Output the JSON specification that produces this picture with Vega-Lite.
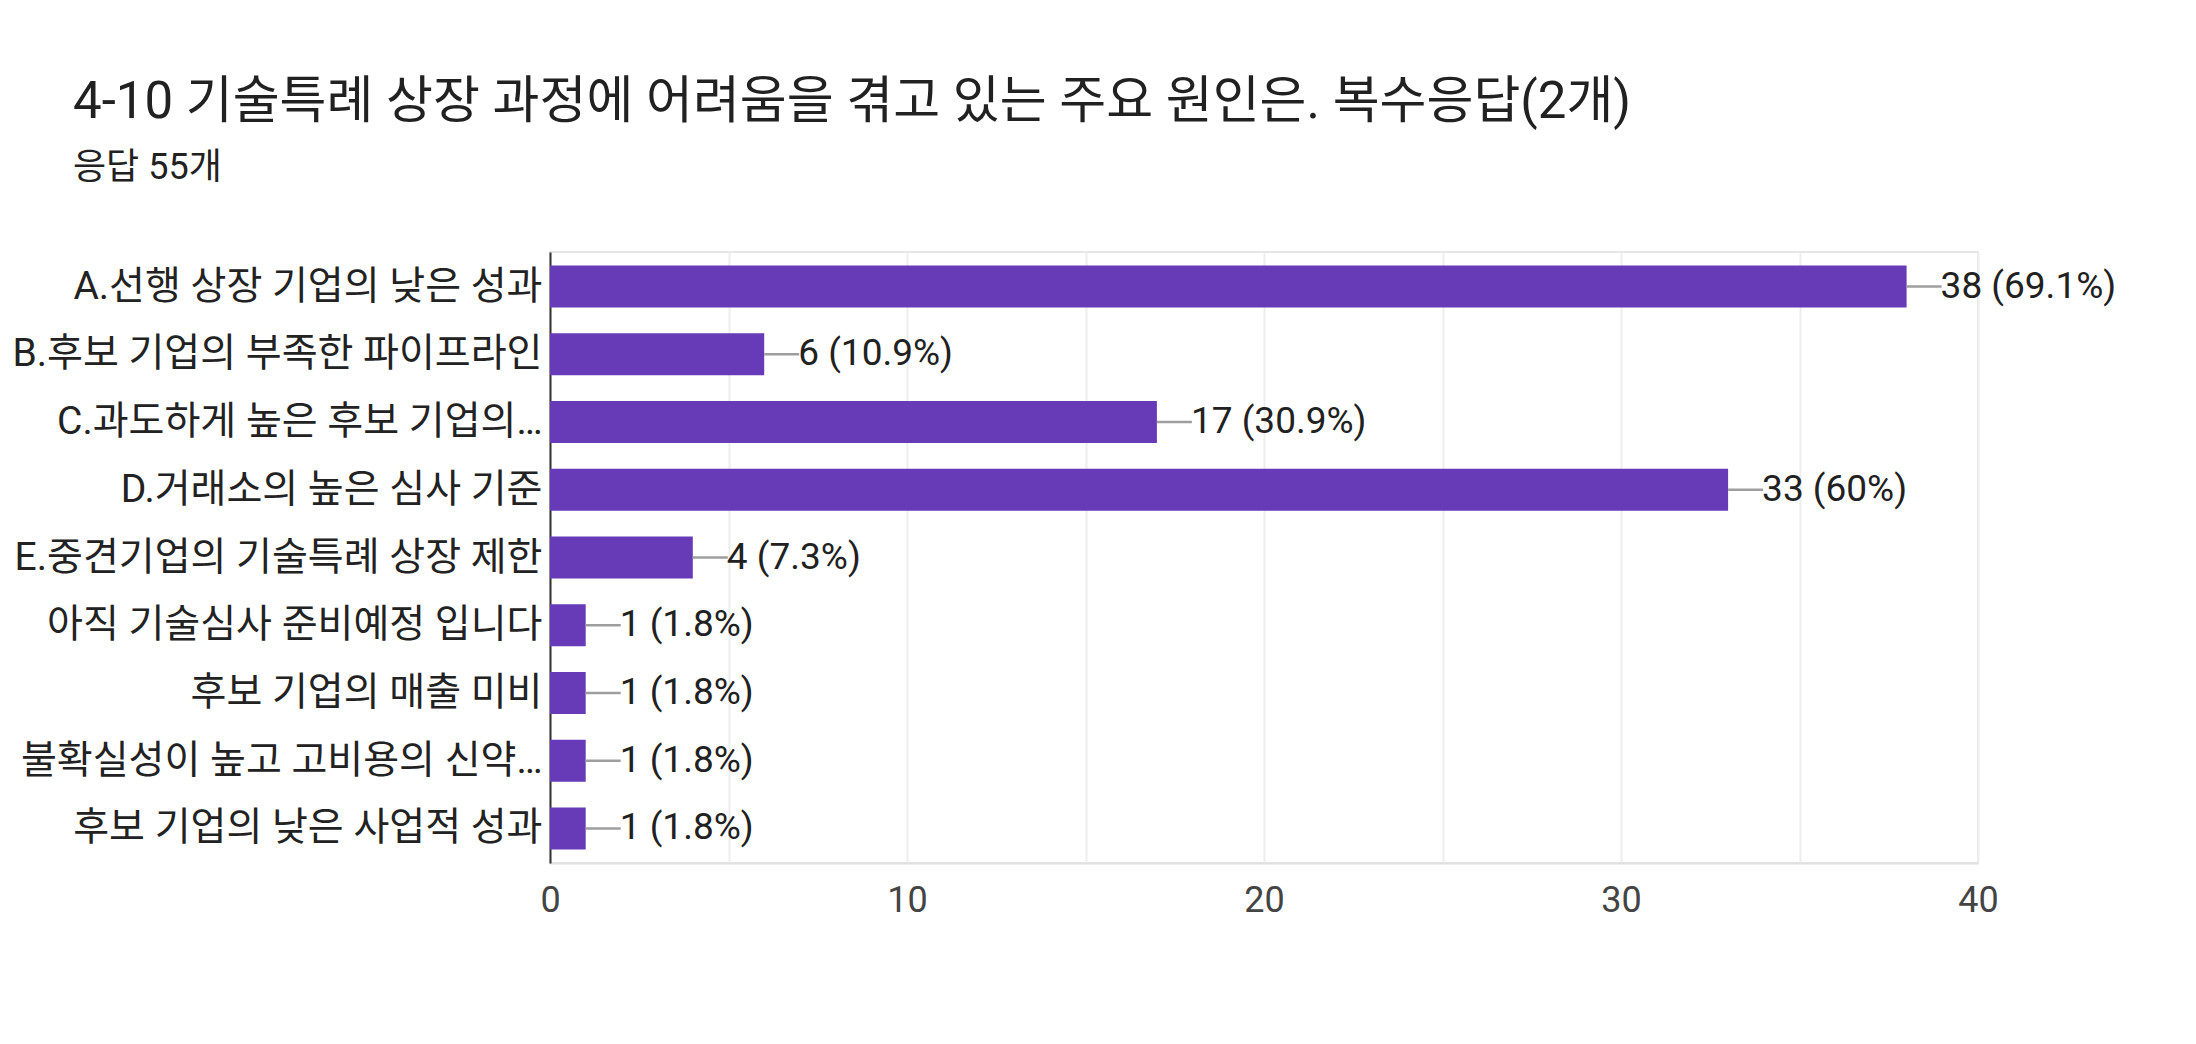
{
  "$schema": "https://vega.github.io/schema/vega-lite/v6.json",
  "width": 1428,
  "height": 611,
  "autosize": {"type": "none"},
  "padding": {"left": 550, "top": 252, "right": 218, "bottom": 181},
  "background": "white",
  "title": {
    "text": "4-10 기술특례 상장 과정에 어려움을 겪고 있는 주요 원인은. 복수응답(2개)",
    "subtitle": "응답 55개",
    "anchor": "start",
    "frame": "group",
    "dx": -477,
    "offset": 65,
    "font": "Roboto, 'Noto Sans CJK KR'",
    "fontSize": 51,
    "fontWeight": "normal",
    "color": "#212121",
    "subtitleFont": "Roboto, 'Noto Sans CJK KR'",
    "subtitleFontSize": 36,
    "subtitleColor": "#212121",
    "subtitlePadding": 22
  },
  "config": {
    "view": {"stroke": "#e6e6e6", "strokeWidth": 2},
    "font": "Roboto, 'Noto Sans CJK KR'"
  },
  "data": {
    "values": [
      {"reason": "A.선행 상장 기업의 낮은 성과", "count": 38, "label": "38 (69.1%)"},
      {"reason": "B.후보 기업의 부족한 파이프라인", "count": 6, "label": "6 (10.9%)"},
      {"reason": "C.과도하게 높은 후보 기업의…", "count": 17, "label": "17 (30.9%)"},
      {"reason": "D.거래소의 높은 심사 기준", "count": 33, "label": "33 (60%)"},
      {"reason": "E.중견기업의 기술특례 상장 제한", "count": 4, "label": "4 (7.3%)"},
      {"reason": "아직 기술심사 준비예정 입니다", "count": 1, "label": "1 (1.8%)"},
      {"reason": "후보 기업의 매출 미비", "count": 1, "label": "1 (1.8%)"},
      {"reason": "불확실성이 높고 고비용의 신약…", "count": 1, "label": "1 (1.8%)"},
      {"reason": "후보 기업의 낮은 사업적 성과", "count": 1, "label": "1 (1.8%)"}
    ]
  },
  "encoding": {
    "y": {
      "field": "reason",
      "type": "nominal",
      "sort": null,
      "scale": {"paddingInner": 0.38, "paddingOuter": 0.2},
      "axis": {
        "title": null,
        "ticks": false,
        "grid": false,
        "domainColor": "#333333",
        "domainWidth": 2,
        "labelFont": "Roboto, 'Noto Sans CJK KR'",
        "labelFontSize": 39,
        "labelColor": "#222222",
        "labelPadding": 8,
        "labelLimit": 0
      }
    }
  },
  "layer": [
    {
      "mark": {"type": "bar", "color": "#673ab7"},
      "encoding": {
        "x": {
          "field": "count",
          "type": "quantitative",
          "scale": {"domain": [0, 40], "nice": false},
          "axis": {
            "title": null,
            "values": [0, 5, 10, 15, 20, 25, 30, 35, 40],
            "labelExpr": "datum.value % 10 === 0 ? datum.label : ''",
            "labelFlush": false,
            "grid": true,
            "gridColor": "#eeeeee",
            "gridWidth": 2,
            "ticks": false,
            "domainColor": "#e0e0e0",
            "domainWidth": 2,
            "labelFont": "Roboto",
            "labelFontSize": 36,
            "labelColor": "#444444",
            "labelPadding": 20
          }
        }
      }
    },
    {
      "mark": {"type": "rule", "color": "#9e9e9e", "strokeWidth": 2.5, "x2Offset": 35},
      "encoding": {
        "x": {"field": "count", "type": "quantitative"},
        "x2": {"field": "count"}
      }
    },
    {
      "mark": {"type": "text", "align": "left", "baseline": "middle", "dx": 34, "fontSize": 37, "color": "#212121", "font": "Roboto"},
      "encoding": {
        "x": {"field": "count", "type": "quantitative"},
        "text": {"field": "label"}
      }
    }
  ]
}
